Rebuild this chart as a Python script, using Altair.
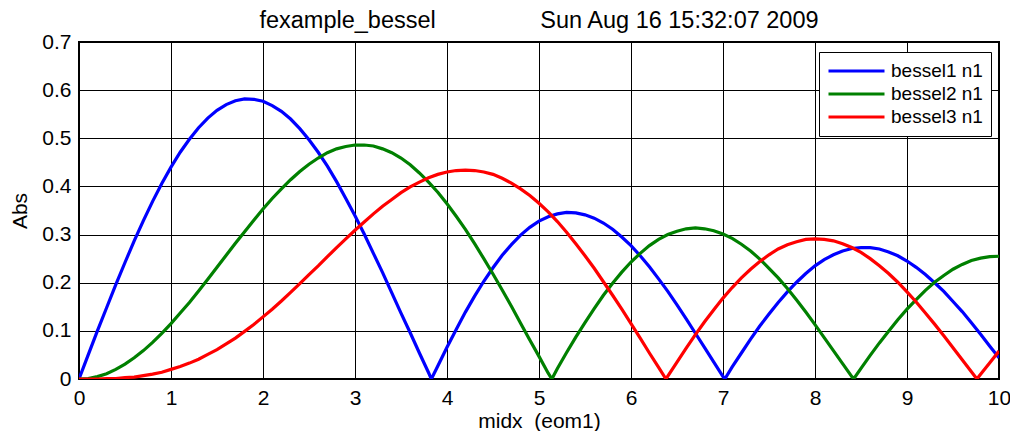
import altair as alt
import pandas as pd

# sample positions along midx
x_pts = [0.0, 0.1, 0.2, 0.3, 0.4, 0.5, 0.6, 0.7, 0.8, 0.9,
         1.0, 1.1, 1.2, 1.3, 1.4, 1.5, 1.6, 1.7, 1.8, 1.9,
         2.0, 2.1, 2.2, 2.3, 2.4, 2.5, 2.6, 2.7, 2.8, 2.9,
         3.0, 3.1, 3.2, 3.3, 3.4, 3.5, 3.6, 3.7, 3.8, 3.9,
         4.0, 4.1, 4.2, 4.3, 4.4, 4.5, 4.6, 4.7, 4.8, 4.9,
         5.0, 5.1, 5.2, 5.3, 5.4, 5.5, 5.6, 5.7, 5.8, 5.9,
         6.0, 6.1, 6.2, 6.3, 6.4, 6.5, 6.6, 6.7, 6.8, 6.9,
         7.0, 7.1, 7.2, 7.3, 7.4, 7.5, 7.6, 7.7, 7.8, 7.9,
         8.0, 8.1, 8.2, 8.3, 8.4, 8.5, 8.6, 8.7, 8.8, 8.9,
         9.0, 9.1, 9.2, 9.3, 9.4, 9.5, 9.6, 9.7, 9.8, 9.9,
         10.0]

bessel1 = [0.0, 0.050, 0.100, 0.148, 0.196, 0.242, 0.287, 0.329, 0.369, 0.406,
           0.440, 0.471, 0.498, 0.522, 0.542, 0.558, 0.570, 0.578, 0.582, 0.581,
           0.577, 0.568, 0.556, 0.540, 0.520, 0.497, 0.471, 0.442, 0.410, 0.375,
           0.339, 0.301, 0.261, 0.221, 0.179, 0.137, 0.096, 0.054, 0.013, 0.027,
           0.066, 0.103, 0.139, 0.172, 0.203, 0.231, 0.257, 0.279, 0.299, 0.315,
           0.328, 0.337, 0.343, 0.346, 0.345, 0.341, 0.334, 0.324, 0.311, 0.295,
           0.277, 0.256, 0.233, 0.208, 0.182, 0.154, 0.125, 0.095, 0.065, 0.035,
           0.005, 0.025, 0.054, 0.083, 0.110, 0.135, 0.159, 0.181, 0.201, 0.219,
           0.235, 0.248, 0.258, 0.266, 0.271, 0.273, 0.273, 0.270, 0.264, 0.256,
           0.245, 0.232, 0.217, 0.200, 0.182, 0.161, 0.140, 0.117, 0.093, 0.068,
           0.044]

bessel2 = [0.0, 0.001, 0.005, 0.011, 0.020, 0.031, 0.044, 0.059, 0.076, 0.095,
           0.115, 0.137, 0.159, 0.183, 0.207, 0.232, 0.257, 0.282, 0.306, 0.330,
           0.353, 0.375, 0.395, 0.414, 0.431, 0.446, 0.459, 0.470, 0.478, 0.483,
           0.486, 0.486, 0.484, 0.478, 0.470, 0.459, 0.445, 0.428, 0.409, 0.388,
           0.364, 0.338, 0.311, 0.281, 0.250, 0.218, 0.185, 0.151, 0.116, 0.081,
           0.047, 0.012, 0.022, 0.055, 0.087, 0.117, 0.146, 0.174, 0.199, 0.222,
           0.243, 0.261, 0.277, 0.290, 0.300, 0.307, 0.312, 0.314, 0.312, 0.308,
           0.301, 0.292, 0.280, 0.266, 0.249, 0.230, 0.210, 0.188, 0.164, 0.139,
           0.113, 0.086, 0.059, 0.032, 0.005, 0.022, 0.049, 0.075, 0.099, 0.123,
           0.145, 0.165, 0.184, 0.201, 0.215, 0.228, 0.238, 0.246, 0.251, 0.254,
           0.255]

bessel3 = [0.0, 0.000, 0.000, 0.001, 0.001, 0.003, 0.004, 0.007, 0.010, 0.014,
           0.020, 0.026, 0.033, 0.041, 0.051, 0.061, 0.073, 0.085, 0.099, 0.113,
           0.129, 0.145, 0.162, 0.180, 0.198, 0.217, 0.235, 0.254, 0.273, 0.291,
           0.309, 0.326, 0.343, 0.359, 0.373, 0.387, 0.399, 0.409, 0.418, 0.425,
           0.430, 0.433, 0.434, 0.433, 0.430, 0.425, 0.417, 0.407, 0.395, 0.381,
           0.365, 0.347, 0.327, 0.305, 0.281, 0.256, 0.230, 0.202, 0.174, 0.145,
           0.115, 0.085, 0.054, 0.024, 0.006, 0.035, 0.064, 0.092, 0.119, 0.144,
           0.168, 0.190, 0.210, 0.228, 0.244, 0.258, 0.270, 0.279, 0.285, 0.290,
           0.291, 0.290, 0.287, 0.281, 0.273, 0.263, 0.250, 0.235, 0.219, 0.201,
           0.181, 0.160, 0.137, 0.114, 0.090, 0.065, 0.040, 0.015, 0.010, 0.034,
           0.058]

# points where each curve touches zero (cusps of the absolute value)
zeros1 = [3.83, 7.02]
zeros2 = [5.14, 8.42]
zeros3 = [6.38, 9.76]

series_names = ["bessel1 n1", "bessel2 n1", "bessel3 n1"]
series_colors = ["#0000ff", "#008000", "#ff0000"]

frames = []
for name, vals, zs in zip(series_names, [bessel1, bessel2, bessel3], [zeros1, zeros2, zeros3]):
    xs = list(x_pts) + zs
    ys = list(vals) + [0.0] * len(zs)
    df = pd.DataFrame({"midx": xs, "Abs": ys, "series": name})
    frames.append(df.sort_values("midx"))
data = pd.concat(frames, ignore_index=True)

title_text = "fexample_bessel" + "\u00a0" * 16 + "Sun Aug 16 15:32:07 2009"
x_title = "midx\u00a0\u00a0(eom1)"

chart = alt.Chart(data).mark_line(strokeWidth=3.2, clip=True).encode(
    x=alt.X("midx:Q", title=x_title,
            scale=alt.Scale(domain=[0, 10], nice=False, zero=False),
            axis=alt.Axis(values=[0, 1, 2, 3, 4, 5, 6, 7, 8, 9, 10], format="d",
                          labelFlush=False, labelOverlap=False)),
    y=alt.Y("Abs:Q", title="Abs",
            scale=alt.Scale(domain=[0, 0.7], nice=False),
            axis=alt.Axis(values=[0, 0.1, 0.2, 0.3, 0.4, 0.5, 0.6, 0.7],
                          labelFlush=False, labelOverlap=False,
                          labelExpr="datum.value == 0 ? '0' : format(datum.value, '.1f')")),
    color=alt.Color("series:N",
                    scale=alt.Scale(domain=series_names, range=series_colors),
                    legend=alt.Legend(title=None, orient="none", legendX=740, legendY=10,
                                      strokeColor="black", fillColor="white",
                                      padding=8, symbolType="stroke",
                                      symbolStrokeWidth=3, symbolSize=3136,
                                      clipHeight=22, rowPadding=1,
                                      labelFontSize=19, labelFont="Liberation Sans",
                                      labelColor="black", labelOffset=5,
                                      cornerRadius=0)),
    order="midx:Q",
).properties(
    width=920, height=337,
    title=alt.TitleParams(title_text, font="Liberation Sans", fontSize=23.5,
                          fontWeight="normal", color="black", offset=0, dy=1),
    autosize=alt.AutoSizeParams(type="none"),
    padding={"left": 71, "top": 34, "right": 11, "bottom": 52},
).configure_axis(
    labelFont="Liberation Sans", labelFontSize=21, labelColor="black",
    titleFont="Liberation Sans", titleFontSize=21, titleColor="black",
    titleFontWeight="normal",
    grid=True, gridColor="black", gridOpacity=1, gridWidth=1,
    domain=False, ticks=False, labelPadding=8,
).configure_axisY(titlePadding=11).configure_axisX(titlePadding=2).configure_view(
    stroke="black", strokeWidth=2
)

chart.save("out.html", embed_options={"renderer": "svg", "actions": False})
